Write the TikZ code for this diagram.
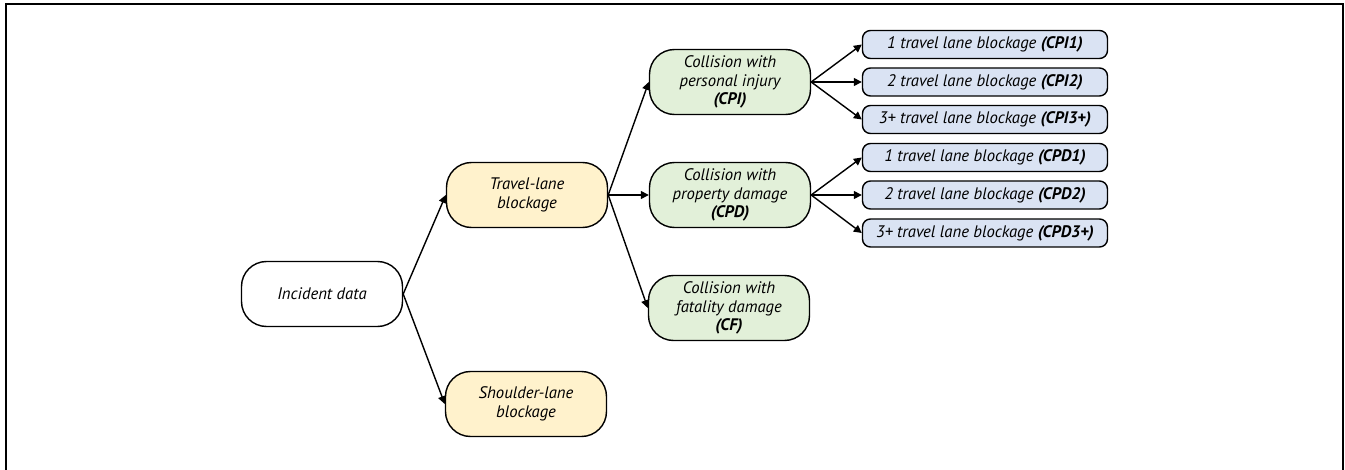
\documentclass[tikz,border=0pt]{standalone}
\usepackage{fontspec}
\setmainfont{PT Sans}
\usepackage{tikz}
\usetikzlibrary{arrows.meta, positioning}
\definecolor{lanefill}{HTML}{FFF2CC}
\definecolor{collfill}{HTML}{E2F0D9}
\definecolor{leaffill}{HTML}{DAE3F3}

\begin{document}
\begin{tikzpicture} [auto, node distance =2 cm and 4cm ,on grid, line width=0.8pt,
	>={Triangle[length=4.5pt,width=4.5pt]},
	font=\itshape\fontsize{9.5}{10.6}\selectfont,
	box/.style ={draw, rounded corners=0.5cm, align=center, minimum width=3.22cm, minimum height=1.3cm, inner sep=0pt},
	lane/.style ={box, fill=lanefill},
	coll/.style ={box, fill=collfill},
	leaf/.style ={draw, fill=leaffill, rounded corners=0.16cm, minimum width=4.9cm, minimum height=0.56cm, inner sep=0pt},
	every edge/.style ={draw, ->}]
	\useasboundingbox (-6.44,-3.5) rectangle (20.46,5.88);
	\draw[line width=1.4pt] (-6.32,-3.7) |- (20.42,5.80) -- (20.42,-3.7);
	\node[box] (ID) {Incident data};
	\node[lane] (TL) [above right=1.98cm and 4.1cm of ID] {Travel-lane\\blockage};
	\node[lane] (SL) [below right=2.2cm and 4.08cm of ID] {Shoulder-lane\\blockage};
	\node[coll] (CPI) [above right=2.26cm and 4.06cm of TL] {Collision with\\personal injury\\\textbf{(CPI)}};
	\node[coll] (CPD) [right=4.06cm of TL] {Collision with\\property damage\\\textbf{(CPD)}};
	\node[coll] (CF) [below right=2.26cm and 4.04cm of TL] {Collision with\\fatality damage\\\textbf{(CF)}};
	\node[leaf] (CPI1) [above right=0.75cm and 5.1cm of CPI] {1 travel lane blockage \textbf{(CPI1)}};
	\node[leaf] (CPI2) [right=5.1cm of CPI] {2 travel lane blockage \textbf{(CPI2)}};
	\node[leaf] (CPI3) [below right=0.75cm and 5.1cm of CPI] {3+ travel lane blockage \textbf{(CPI3+)}};
	\node[leaf] (CPD1) [above right=0.75cm and 5.1cm of CPD] {1 travel lane blockage \textbf{(CPD1)}};
	\node[leaf] (CPD2) [right=5.1cm of CPD] {2 travel lane blockage \textbf{(CPD2)}};
	\node[leaf] (CPD3) [below right=0.76cm and 5.1cm of CPD] {3+ travel lane blockage \textbf{(CPD3+)}};
	\path (ID.east) edge (TL.west) edge (SL.west);
	\path (TL.east) edge (CPI.west) edge (CPD.west) edge (CF.west);
	\path (CPI.east) edge (CPI1.west) edge (CPI2.west) edge (CPI3.west);
	\path (CPD.east) edge (CPD1.west) edge (CPD2.west) edge (CPD3.west);
\end{tikzpicture}
\end{document}
